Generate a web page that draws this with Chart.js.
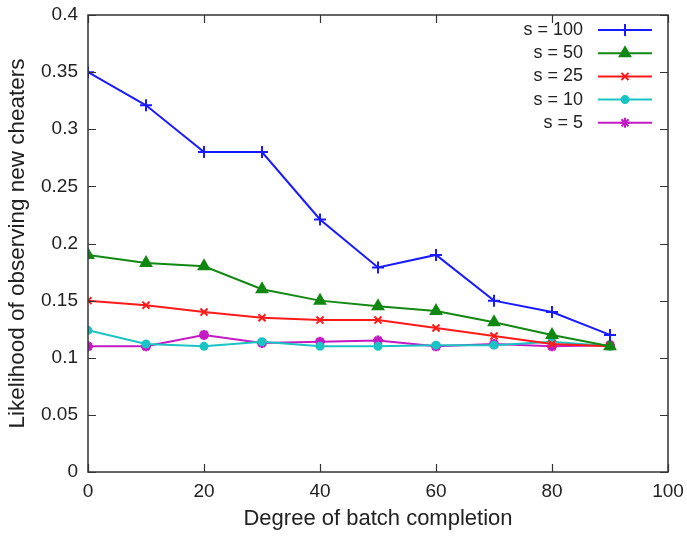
<!DOCTYPE html>
<html>
<head>
<meta charset="utf-8">
<script src="https://cdn.jsdelivr.net/npm/chart.js@4"></script>
<style>
  html, body { margin: 0; padding: 0; background: #fff; }
  #wrap { width: 687px; height: 536px; }
</style>
</head>
<body>
<div id="wrap"><canvas id="chart" width="687" height="536"></canvas></div>
<script>
// batch completion degrees
const degrees = [0, 10, 20, 30, 40, 50, 60, 70, 80, 90];

const s100 = [0.35, 0.321, 0.28, 0.28, 0.221, 0.179, 0.19, 0.15, 0.14, 0.12];
const s50 = [0.19, 0.183, 0.18, 0.16, 0.15, 0.145, 0.141, 0.131, 0.12, 0.11];
const s25 = [0.15, 0.146, 0.14, 0.135, 0.133, 0.133, 0.126, 0.119, 0.112, 0.11];
const s10 = [0.124, 0.112, 0.11, 0.114, 0.11, 0.11, 0.111, 0.111, 0.114, 0.11];
const s5 = [0.11, 0.11, 0.12, 0.113, 0.114, 0.115, 0.11, 0.112, 0.11, 0.111];

const seriesNames = ['s = 100', 's = 50', 's = 25', 's = 10', 's = 5'];
const xTicks = [0, 20, 40, 60, 80, 100];
const yTicks = [0, 0.05, 0.1, 0.15, 0.2, 0.25, 0.3, 0.35, 0.4];

const colors = ['#1a1aff', '#118811', '#ff1a1a', '#1ac4c4', '#c41ac4'];
const markers = ['cross', 'triangle', 'crossRot', 'circle', 'star'];
const markerSize = [6, 6, 5, 3.5, 5];

const FONT = '"Liberation Sans", Arial, sans-serif';

function toPoints(vals) {
    return vals.map((v, i) => ({ x: degrees[i], y: v }));
}

const allSeries = [s100, s50, s25, s10, s5];

// inward tick marks on all four sides plus the frame
const framePlugin = {
    id: 'frame',
    afterDatasetsDraw(chart) {
        const ctx = chart.ctx;
        const a = chart.chartArea;
        const xs = chart.scales.x, ys = chart.scales.y;
        ctx.save();
        ctx.strokeStyle = '#333';
        ctx.lineWidth = 1.2;
        const len = 8;
        ctx.beginPath();
        xTicks.forEach(t => {
            const px = Math.round(xs.getPixelForValue(t)) + 0.5;
            ctx.moveTo(px, a.bottom); ctx.lineTo(px, a.bottom - len);
            ctx.moveTo(px, a.top); ctx.lineTo(px, a.top + len);
        });
        yTicks.forEach(t => {
            const py = Math.round(ys.getPixelForValue(t)) + 0.5;
            ctx.moveTo(a.left, py); ctx.lineTo(a.left + len, py);
            ctx.moveTo(a.right, py); ctx.lineTo(a.right - len, py);
        });
        ctx.stroke();
        ctx.lineWidth = 1.5;
        ctx.strokeRect(a.left, a.top, a.right - a.left, a.bottom - a.top);
        ctx.restore();
    }
};

// gnuplot-like legend: text right aligned, line sample with marker on the right
const keyPlugin = {
    id: 'key',
    afterDatasetsDraw(chart) {
        const ctx = chart.ctx;
        ctx.save();
        ctx.font = '18px ' + FONT;
        ctx.textAlign = 'right';
        ctx.textBaseline = 'middle';
        chart.data.datasets.forEach((ds, i) => {
            const y = 30 + i * 23.2;
            ctx.fillStyle = '#222';
            ctx.fillText(ds.label, 583, y);
            ctx.strokeStyle = ds.borderColor;
            ctx.lineWidth = 2;
            ctx.beginPath();
            ctx.moveTo(598, y);
            ctx.lineTo(652, y);
            ctx.stroke();
            ctx.fillStyle = ds.borderColor;
            Chart.helpers.drawPoint(ctx, {
                pointStyle: ds.pointStyle,
                radius: ds.pointRadius,
                rotation: 0,
                borderWidth: ds.pointBorderWidth
            }, 625, y);
        });
        ctx.restore();
    }
};

new Chart(document.getElementById('chart').getContext('2d'), {
    type: 'line',
    data: {
        datasets: allSeries.map((vals, i) => ({
            label: seriesNames[i],
            data: toPoints(vals),
            borderColor: colors[i],
            backgroundColor: colors[i],
            borderWidth: 2,
            pointStyle: markers[i],
            pointRadius: markerSize[i],
            pointBorderWidth: i === 4 ? 3 : 2,
            tension: 0
        }))
    },
    options: {
        responsive: false,
        animation: false,
        layout: { padding: { top: 15, right: 19, left: 0, bottom: 0 } },
        plugins: {
            legend: { display: false },
            tooltip: { enabled: false }
        },
        scales: {
            x: {
                type: 'linear',
                min: 0,
                max: 100,
                afterBuildTicks(scale) { scale.ticks = xTicks.map(v => ({ value: v })); },
                afterFit(scale) {
                    scale.height = 64;
                    scale.paddingLeft = 0;
                    scale.paddingRight = 0;
                },
                grid: { display: false, drawTicks: false },
                border: { display: false },
                ticks: {
                    color: '#222',
                    padding: 8,
                    maxRotation: 0,
                    font: { family: FONT, size: 19 }
                },
                title: {
                    display: true,
                    text: 'Degree of batch completion',
                    color: '#222',
                    padding: { top: 4 },
                    font: { family: FONT, size: 22 }
                }
            },
            y: {
                type: 'linear',
                min: 0,
                max: 0.4,
                afterBuildTicks(scale) { scale.ticks = yTicks.map(v => ({ value: v })); },
                afterFit(scale) {
                    scale.width = 88;
                    scale.paddingTop = 0;
                    scale.paddingBottom = 0;
                },
                grid: { display: false, drawTicks: false },
                border: { display: false },
                ticks: {
                    color: '#222',
                    padding: 10,
                    font: { family: FONT, size: 19 },
                    callback: v => String(Math.round(v * 100) / 100)
                },
                title: {
                    display: true,
                    text: 'Likelihood of observing new cheaters',
                    color: '#222',
                    padding: { top: 4, bottom: 0 },
                    font: { family: FONT, size: 22.5 }
                }
            }
        }
    },
    plugins: [framePlugin, keyPlugin]
});
</script>
</body>
</html>
